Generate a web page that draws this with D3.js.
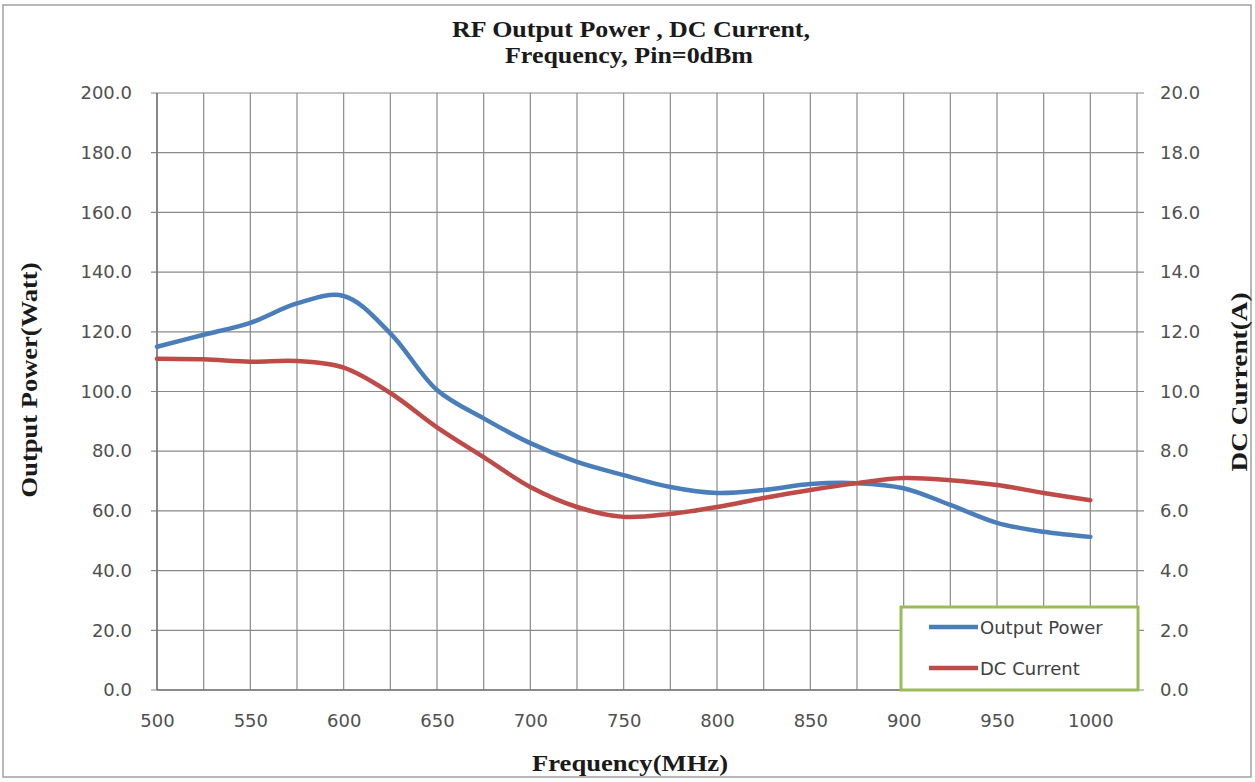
<!DOCTYPE html>
<html><head><meta charset="utf-8">
<script src="https://cdn.jsdelivr.net/npm/d3@7"></script>
<style>body{margin:0;background:#fff}svg{display:block}</style>
</head><body>
<svg id="chart" width="1255" height="782"></svg>
<script>
const frequency = [500,525,550,575,600,625,650,675,700,725,750,775,800,825,850,875,900,925,950,975,1000];
const outputPower = [115,119,123,129.5,132,119.5,100.5,91,82.7,76.4,72,68,66,67,69,69.3,67.6,62,56,53,51.3];
const dcCurrent = [11.1,11.08,11.0,11.02,10.8,9.95,8.8,7.8,6.8,6.13,5.8,5.9,6.13,6.43,6.7,6.93,7.1,7.03,6.87,6.6,6.36];
const xGridTicks = d3.range(500, 1026, 25);
const xLabelTicks = [500,550,600,650,700,750,800,850,900,950,1000];
const leftTicks = [0,20,40,60,80,100,120,140,160,180,200];
const rightTicks = [0,2,4,6,8,10,12,14,16,18,20];
const titleLines = ["RF Output Power , DC Current,", "Frequency, Pin=0dBm"];
const seriesNames = ["Output Power", "DC Current"];

const svg = d3.select("#chart");
const L = 157, R = 1137, T = 93, B = 690;
const x = d3.scaleLinear().domain([500, 1025]).range([L, R]);
const yL = d3.scaleLinear().domain([0, 200]).range([B, T]);
const yR = d3.scaleLinear().domain([0, 20]).range([B, T]);
const blue = "#4a7ebb", red = "#be4b48", grid = "#8a8a8a", tickTxt = "#505050";

svg.append("rect").attr("x", 3).attr("y", 5).attr("width", 1248).attr("height", 772)
  .attr("fill", "#fff").attr("stroke", "#a0a0a0").attr("stroke-width", 1.5);

// grid
const g = svg.append("g");
g.selectAll(".vg").data(xGridTicks).enter().append("line")
  .attr("x1", d => x(d)).attr("x2", d => x(d)).attr("y1", T).attr("y2", B)
  .attr("stroke", grid).attr("stroke-width", 1.2);
g.selectAll(".hg").data(leftTicks).enter().append("line")
  .attr("x1", L - 6).attr("x2", R + 7).attr("y1", d => yL(d)).attr("y2", d => yL(d))
  .attr("stroke", grid).attr("stroke-width", 1.2);
g.append("line").attr("x1", L).attr("x2", L).attr("y1", T).attr("y2", B).attr("stroke", "#777").attr("stroke-width", 1.5);
g.append("line").attr("x1", L).attr("x2", R).attr("y1", B).attr("y2", B).attr("stroke", "#777").attr("stroke-width", 1.5);

// axes labels
const yAxisL = d3.axisLeft(yL).tickValues(leftTicks).tickFormat(d => d.toFixed(1)).tickSize(0).tickPadding(25);
const yAxisR = d3.axisRight(yR).tickValues(rightTicks).tickFormat(d => d.toFixed(1)).tickSize(0).tickPadding(23);
const xAxis = d3.axisBottom(x).tickValues(xLabelTicks).tickFormat(d3.format("d")).tickSize(0).tickPadding(24);
function styleAxis(sel){
  sel.select(".domain").remove();
  sel.selectAll("text").attr("fill", tickTxt).style("font-family", "'DejaVu Sans', sans-serif").style("font-size", "18px");
}
svg.append("g").attr("transform", `translate(${L},0)`).call(yAxisL).call(styleAxis);
svg.append("g").attr("transform", `translate(${R},0)`).call(yAxisR).call(styleAxis);
svg.append("g").attr("transform", `translate(0,${B})`).call(xAxis).call(styleAxis);

// lines
const curve = d3.curveCatmullRom.alpha(0.5);
const lineL = d3.line().x((d, i) => x(frequency[i])).y(d => yL(d)).curve(curve);
const lineR = d3.line().x((d, i) => x(frequency[i])).y(d => yR(d)).curve(curve);
svg.append("path").datum(outputPower).attr("d", lineL).attr("fill", "none").attr("stroke", blue).attr("stroke-width", 4.5).attr("stroke-linecap", "round");
svg.append("path").datum(dcCurrent).attr("d", lineR).attr("fill", "none").attr("stroke", red).attr("stroke-width", 4.5).attr("stroke-linecap", "round");

// legend
const lg = svg.append("g");
lg.append("rect").attr("x", 901).attr("y", 607).attr("width", 237).attr("height", 83)
  .attr("fill", "#fff").attr("stroke", "#9bbb59").attr("stroke-width", 3);
[[blue, 627], [red, 668]].forEach((c, i) => {
  lg.append("line").attr("x1", 929).attr("x2", 978).attr("y1", c[1]).attr("y2", c[1]).attr("stroke", c[0]).attr("stroke-width", 4.5);
  lg.append("text").attr("x", 980).attr("y", c[1] + 7).text(seriesNames[i])
    .attr("fill", "#404040").style("font-family", "'DejaVu Sans', sans-serif").style("font-size", "18px");
});

// titles
const serif = "'Liberation Serif', 'Times New Roman', serif";
function boldText(txt, xx, yy, len, rot){
  const t = svg.append("text").attr("text-anchor", "middle").attr("fill", "#1a1a1a")
    .style("font-family", serif).style("font-weight", "bold").style("font-size", "24px")
    .attr("textLength", len).attr("lengthAdjust", "spacingAndGlyphs").text(txt);
  if (rot) t.attr("transform", `translate(${xx},${yy}) rotate(${rot})`);
  else t.attr("x", xx).attr("y", yy);
  return t;
}
boldText(titleLines[0], 631, 37, 358);
boldText(titleLines[1], 629, 63, 248);
boldText("Frequency(MHz)", 630, 771, 196);
boldText("Output  Power(Watt)", 37, 380, 235, -90);
boldText("DC Current(A)", 1247, 382, 179, -90);
</script>
</body></html>
